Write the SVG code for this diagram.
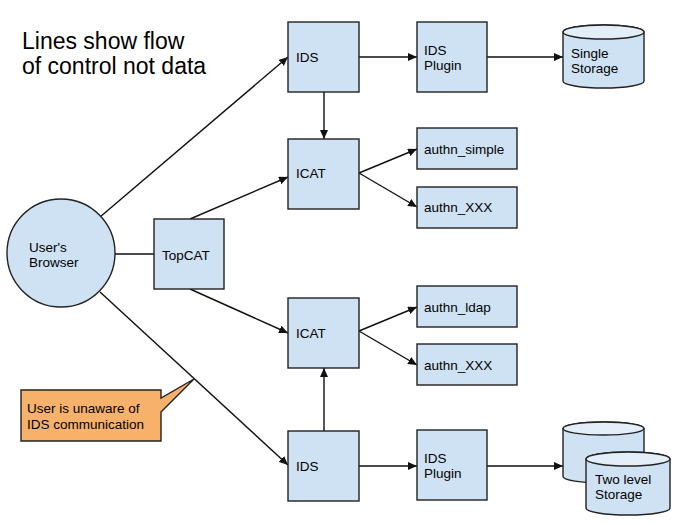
<svg xmlns="http://www.w3.org/2000/svg" width="700" height="525" viewBox="0 0 700 525">
<style>
text{font-family:"Liberation Sans",Arial,sans-serif;font-size:13.5px;fill:#000}
.title{font-size:23px}
.box{fill:#cfe2f3;stroke:#222;stroke-width:1.4}
.top{fill:#e3eef8;stroke:#222;stroke-width:1.4}
.call{fill:#f6b26b;stroke:#222;stroke-width:1.4}
.ln{stroke:#111;stroke-width:1.4;fill:none}
</style>
<defs>
<marker id="ah" markerUnits="userSpaceOnUse" markerWidth="10" markerHeight="8" refX="9" refY="4" orient="auto">
<path d="M0,0 L9,4 L0,8 Z" fill="#111"/>
</marker>
</defs>
<rect width="700" height="525" fill="#fff"/>
<g id="title">
<text class="title" x="22" y="49">Lines show flow</text>
<text class="title" x="22" y="74">of control not data</text>
</g>
<g id="connectors">
<line class="ln" x1="100" y1="217" x2="288" y2="57" marker-end="url(#ah)"/>
<line class="ln" x1="100" y1="292" x2="288" y2="465" marker-end="url(#ah)"/>
<line class="ln" x1="115" y1="254" x2="154" y2="254"/>
<line class="ln" x1="190" y1="219" x2="288" y2="177" marker-end="url(#ah)"/>
<line class="ln" x1="190" y1="289" x2="288" y2="333" marker-end="url(#ah)"/>
<line class="ln" x1="324" y1="92" x2="324" y2="139" marker-end="url(#ah)"/>
<line class="ln" x1="324" y1="431" x2="324" y2="368" marker-end="url(#ah)"/>
<line class="ln" x1="359" y1="57" x2="417" y2="57" marker-end="url(#ah)"/>
<line class="ln" x1="487" y1="57" x2="563" y2="57" marker-end="url(#ah)"/>
<line class="ln" x1="359" y1="466" x2="417" y2="466" marker-end="url(#ah)"/>
<line class="ln" x1="487" y1="466" x2="563" y2="466" marker-end="url(#ah)"/>
<line class="ln" x1="359" y1="173" x2="417" y2="149" marker-end="url(#ah)"/>
<line class="ln" x1="359" y1="173" x2="417" y2="207" marker-end="url(#ah)"/>
<line class="ln" x1="359" y1="331" x2="417" y2="307" marker-end="url(#ah)"/>
<line class="ln" x1="359" y1="331" x2="417" y2="365" marker-end="url(#ah)"/>
</g>
<g id="browser">
<circle class="box" cx="61" cy="253" r="54"/>
<text x="29" y="252">User's</text>
<text x="29" y="267">Browser</text>
</g>
<g id="topcat">
<rect class="box" x="154" y="219" width="70" height="70"/>
<text x="162" y="260">TopCAT</text>
</g>
<g id="ids1">
<rect class="box" x="288" y="22" width="71" height="70"/>
<text x="296" y="62">IDS</text>
</g>
<g id="plugin1">
<rect class="box" x="417" y="22" width="70" height="70"/>
<text x="424" y="55">IDS</text>
<text x="424" y="70">Plugin</text>
</g>
<g id="storage1">
<path class="box" d="M563,32 A40.5,7 0 0 1 644,32 V81 A40.5,7 0 0 1 563,81 Z"/>
<ellipse class="top" cx="603.5" cy="32" rx="40.5" ry="7"/>
<text x="571" y="58">Single</text>
<text x="571" y="73">Storage</text>
</g>
<g id="icat1">
<rect class="box" x="288" y="139" width="71" height="70"/>
<text x="296" y="178">ICAT</text>
</g>
<g id="authn_simple">
<rect class="box" x="417" y="128" width="100" height="41"/>
<text x="424" y="154">authn_simple</text>
</g>
<g id="authn_xxx1">
<rect class="box" x="417" y="187" width="100" height="41"/>
<text x="424" y="212">authn_XXX</text>
</g>
<g id="icat2">
<rect class="box" x="288" y="298" width="71" height="70"/>
<text x="296" y="338">ICAT</text>
</g>
<g id="authn_ldap">
<rect class="box" x="417" y="286" width="100" height="41"/>
<text x="424" y="312">authn_ldap</text>
</g>
<g id="authn_xxx2">
<rect class="box" x="417" y="344" width="100" height="41"/>
<text x="424" y="370">authn_XXX</text>
</g>
<g id="ids2">
<rect class="box" x="288" y="431" width="71" height="70"/>
<text x="296" y="471">IDS</text>
</g>
<g id="plugin2">
<rect class="box" x="417" y="430" width="70" height="70"/>
<text x="424" y="463">IDS</text>
<text x="424" y="478">Plugin</text>
</g>
<g id="storage2">
<path class="box" d="M563,428.5 A40.5,6.5 0 0 1 644,428.5 V476.5 A40.5,6.5 0 0 1 563,476.5 Z"/>
<ellipse class="top" cx="603.5" cy="428.5" rx="40.5" ry="6.5"/>
<path class="box" d="M586,459 A42,7 0 0 1 670,459 V508 A42,7 0 0 1 586,508 Z"/>
<ellipse class="top" cx="628" cy="459" rx="42" ry="7"/>
<text x="595" y="484">Two level</text>
<text x="595" y="499">Storage</text>
</g>
<g id="callout">
<path class="call" d="M21,390 H161 V398 L194,379 L161,412 V441 H21 Z"/>
<text x="27" y="413">User is unaware of</text>
<text x="27" y="429">IDS communication</text>
</g>
</svg>
